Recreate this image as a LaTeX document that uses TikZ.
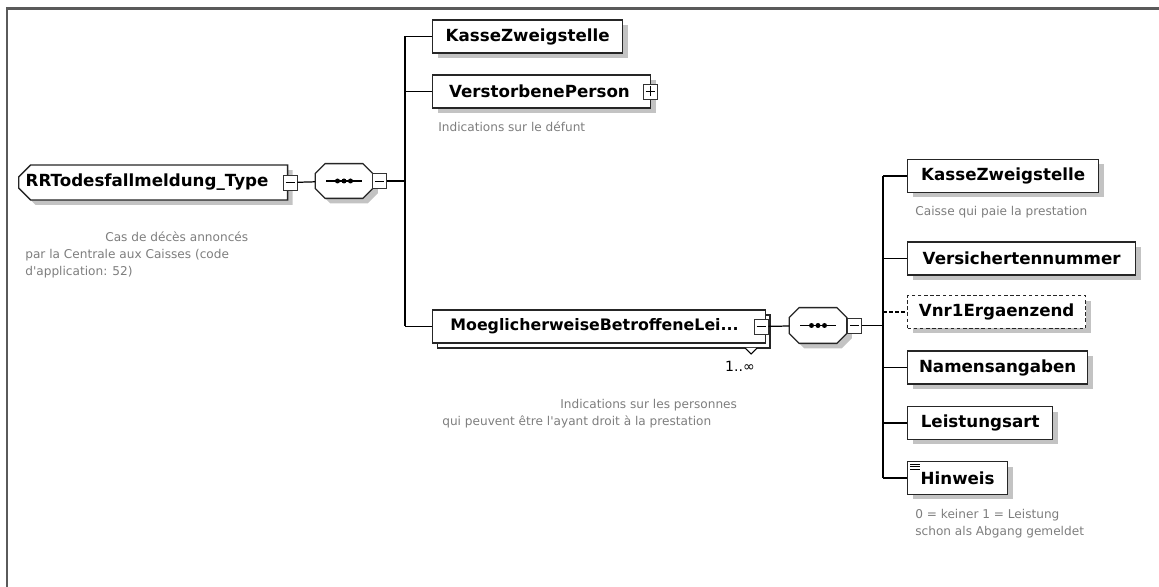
\documentclass[tikz,border=0pt]{standalone}
\usepackage{fontspec}
\setmainfont{DejaVu Sans}
\usetikzlibrary{shapes.misc}
\usetikzlibrary{shadows}
\definecolor{notegray}{RGB}{125,125,125}
\definecolor{shadegray}{RGB}{195,195,195}
\definecolor{framegray}{RGB}{90,90,90}
\tikzset{
    element/.style={
        draw=black!85, line width=0.75pt, fill=white, anchor=west,
        minimum height=0.66cm, inner xsep=0.2cm, inner ysep=0pt,
        font=\fontsize{9.5}{11}\selectfont\bfseries,
        drop shadow={shadow xshift=0.1cm, shadow yshift=-0.1cm, fill=shadegray, opacity=1}
    },
    optional/.style={element, dash pattern=on 2pt off 1.5pt},
    rootelement/.style={
        element, chamfered rectangle, chamfered rectangle corners={north west, south west},
        chamfered rectangle xsep=0.12cm, chamfered rectangle ysep=0.12cm,
        align=left, inner xsep=0.02cm, minimum height=0.7cm
    },
    sequence/.style={
        rectangle, minimum width=1.14cm, minimum height=0.68cm, inner sep=0pt
    },
    seqoutline/.style={
        draw=black!85, line width=0.75pt, fill=white,
        preaction={fill=shadegray, transform canvas={xshift=0.1cm, yshift=-0.1cm}}
    },
    collapse/.style={
        draw=black!80, fill=white, line width=0.5pt, minimum width=0.28cm, minimum height=0.3cm, inner sep=0pt,
        path picture={
            \draw[black, line width=0.5pt] ([xshift=0.05cm]path picture bounding box.west) -- ([xshift=-0.05cm]path picture bounding box.east);
        }
    },
    expand/.style={
        collapse,
        path picture={
            \draw[black, line width=0.5pt] ([xshift=0.05cm]path picture bounding box.west) -- ([xshift=-0.05cm]path picture bounding box.east);
            \draw[black, line width=0.5pt] ([yshift=0.05cm]path picture bounding box.south) -- ([yshift=-0.05cm]path picture bounding box.north);
        }
    },
    note/.style={anchor=west, inner sep=0pt, text=notegray, align=left, font=\fontsize{6.9}{9.7}\selectfont},
    link/.style={line width=0.7pt}
}

\newcommand{\seqmarks}[1]{
	\draw[seqoutline]
		([xshift=0.2cm]#1.north west) -- ([xshift=-0.2cm]#1.north east) --
		([yshift=-0.2cm]#1.north east) -- ([yshift=0.2cm]#1.south east) --
		([xshift=-0.2cm]#1.south east) -- ([xshift=0.2cm]#1.south west) --
		([yshift=0.2cm]#1.south west) -- ([yshift=-0.2cm]#1.north west) -- cycle;
	\draw[line width=0.6pt] ([xshift=-0.36cm]#1.center) -- ([xshift=0.36cm]#1.center);
	\foreach \d in {-0.13,0,0.13}
		\fill ([xshift=\d cm]#1.center) circle (0.05cm);
}

\begin{document}
\begin{tikzpicture}[x=0.02cm, y=-0.02cm]

	\useasboundingbox (0,0) rectangle (1159,587);
	
	\draw[framegray, line width=0.06cm] (7,587) -- (7,9) -- (1159,9);
	
	\node[rootelement, text width=5.1cm] (root) at (18,182.5) {RRTodesfallmeldung\_Type};
	
	\node[collapse] (rootminus) at (290,182.5) {};
	
	\node[note] (rootnote) at (25,255) {\hspace*{1.6cm}Cas de décès annoncés\\par la Centrale aux Caisses (code\\d\textquotesingle application: 52)};
	
	\node[sequence] (seq1) at (344,181) {};
	\seqmarks{seq1}
	
	\node[collapse, anchor=west] (seq1minus) at (372,181) {};
	
	\coordinate (bus1) at (405,181);
	
	\node[element, minimum width=3.8cm] (kasse1) at (432,36.5) {KasseZweigstelle};
	
	\node[element, minimum width=4.36cm, align=left, text width=3.7cm] (verst) at (432,91.5) {VerstorbenePerson};
	
	\node[expand] (verstplus) at (650,91.5) {};
	
	\node[note] (verstnote) at (438,127) {Indications sur le défunt};
	
	\node[element, copy shadow={shadow xshift=0.09cm, shadow yshift=-0.1cm}, minimum width=6.66cm, align=left, text width=5.95cm, font=\fontsize{9}{11}\selectfont\bfseries] (moegl) at (432,326.5) {MoeglicherweiseBetroffeneLei...};
	
	\node[collapse] (moeglminus) at (761,326.5) {};
	
	\draw[line width=0.6pt, fill=white] (745,348) -- (751,354) -- (757,348);
	
	\node[inner sep=0pt, font=\fontsize{8}{9}\selectfont] (moeglcount) at (740,366) {1..∞};
	
	\node[note] (moeglnote) at (442,414) {\hspace*{2.36cm}Indications sur les personnes\\qui peuvent être l\textquotesingle ayant droit à la prestation};
	
	\node[sequence, minimum height=0.7cm] (seq2) at (818,325.5) {};
	\seqmarks{seq2}
	
	\node[collapse, anchor=west] (seq2minus) at (847,325.5) {};
	
	\coordinate (bus2) at (883,325.5);
	
	\node[element, minimum width=3.82cm] (kasse2) at (907,176) {KasseZweigstelle};
	
	\node[note] (kasse2note) at (915,212) {Caisse qui paie la prestation};
	
	\node[element, minimum width=4.56cm] (versnr) at (907,258.5) {Versichertennummer};
	
	\node[optional, minimum width=3.56cm] (vnr) at (907,312) {Vnr1Ergaenzend};
	
	\node[element, minimum width=3.6cm] (namen) at (907,367.5) {Namensangaben};
	
	\node[element, minimum width=2.9cm] (leist) at (907,423) {Leistungsart};
	
	\node[element, minimum width=2cm] (hinweis) at (907,478) {Hinweis};
	
	\foreach \k in {0,1,2}
		\draw[line width=0.5pt] ([xshift=0.06cm, yshift=-0.07cm-\k*0.05cm]hinweis.north west) -- ++(0.2cm,0);
	
	\node[note] (hinweisnote) at (915,524) {0 = keiner 1 = Leistung\\schon als Abgang gemeldet};
	
	\draw[link] (rootminus) -- (seq1);
	\draw[link] (seq1minus) -- (bus1);
	\draw[link] (bus1 |- kasse1) -- (bus1 |- moegl);
	\draw[link] (bus1 |- kasse1) -- (kasse1);
	\draw[link] (bus1 |- verst) -- (verst);
	\draw[link] (bus1 |- moegl) -- (moegl);
	
	\draw[link] (moeglminus) -- (seq2);
	\draw[link] (seq2minus) -- (bus2);
	\draw[link] (bus2 |- kasse2) -- (bus2 |- hinweis);
	\draw[link] (bus2 |- kasse2) -- (kasse2);
	\draw[link] (bus2 |- versnr) -- (versnr);
	\draw[link, dash pattern=on 2pt off 1.5pt] (bus2 |- vnr) -- (vnr);
	\draw[link] (bus2 |- namen) -- (namen);
	\draw[link] (bus2 |- leist) -- (leist);
	\draw[link] (bus2 |- hinweis) -- (hinweis);

\end{tikzpicture}
\end{document}
